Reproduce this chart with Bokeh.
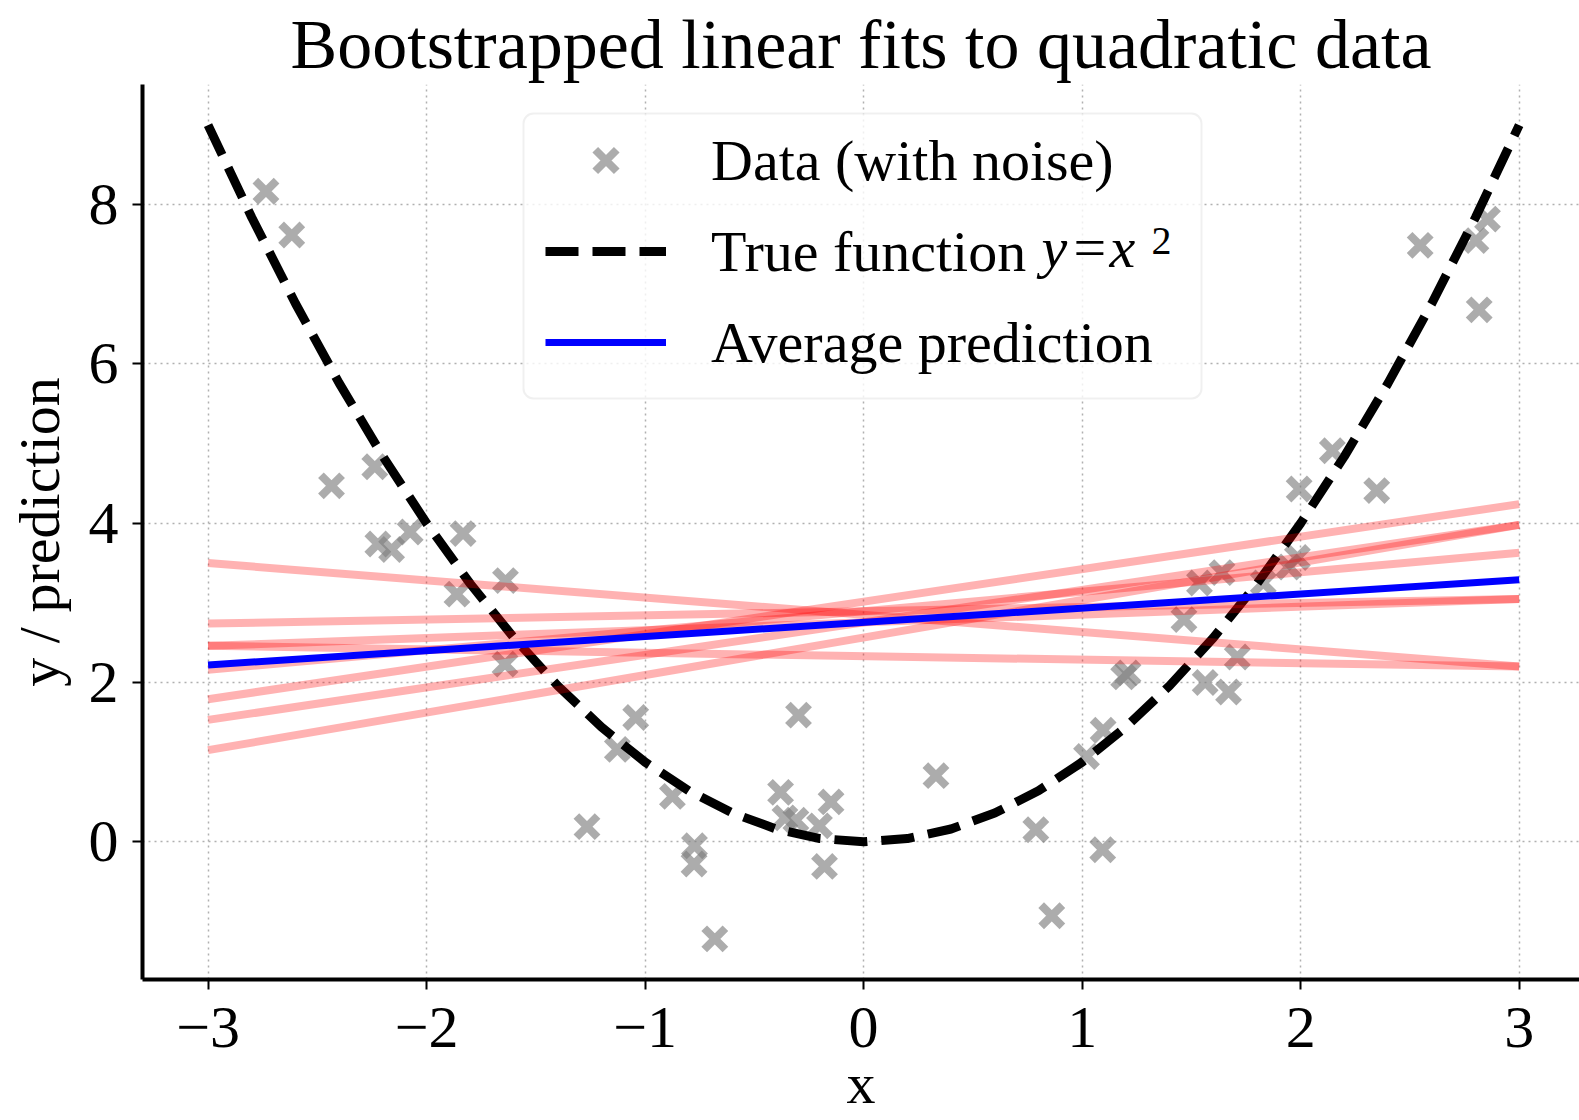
from bokeh.plotting import figure
from bokeh.models import Range1d, FixedTicker, Legend, LegendItem, Label, BoxAnnotation
from bokeh.embed import file_html
from bokeh.resources import INLINE

SERIF = "Liberation Serif"

# Noisy samples of the quadratic
data_x = [-2.735, -2.617, -2.435, -2.237, -2.223, -2.160, -2.075, -1.833, -1.861, -1.639,
          -1.641, -1.266, -1.127, -1.043, -0.875, -0.774, -0.776, -0.681, -0.380, -0.360,
          -0.310, -0.298, -0.202, -0.149, -0.179, 0.331, 0.788, 0.861, 1.020, 1.096,
          1.094, 1.190, 1.210, 1.466, 1.537, 1.563, 1.640, 1.670, 1.710, 1.829,
          1.946, 1.985, 1.993, 2.145, 2.348, 2.547, 2.802, 2.817, 2.855]
data_y = [8.17, 7.62, 4.47, 4.71, 3.74, 3.67, 3.89, 3.87, 3.11, 3.28,
          2.23, 0.19, 1.16, 1.56, 0.57, -0.05, -0.28, -1.22, 0.62, 0.30,
          0.27, 1.59, 0.20, 0.50, -0.31, 0.83, 0.15, -0.93, 1.07, 1.40,
          -0.10, 2.07, 2.12, 2.79, 3.25, 2.00, 3.38, 1.88, 2.32, 3.25,
          3.45, 3.57, 4.43, 4.91, 4.41, 7.49, 7.55, 6.68, 7.82]

# True function y = x^2 sampled on a 0.2 grid
curve_x = [-3.0, -2.8, -2.6, -2.4, -2.2, -2.0, -1.8, -1.6, -1.4, -1.2, -1.0,
           -0.8, -0.6, -0.4, -0.2, 0.0, 0.2, 0.4, 0.6, 0.8, 1.0,
           1.2, 1.4, 1.6, 1.8, 2.0, 2.2, 2.4, 2.6, 2.8, 3.0]
curve_y = [9.0, 7.84, 6.76, 5.76, 4.84, 4.0, 3.24, 2.56, 1.96, 1.44, 1.0,
           0.64, 0.36, 0.16, 0.04, 0.0, 0.04, 0.16, 0.36, 0.64, 1.0,
           1.44, 1.96, 2.56, 3.24, 4.0, 4.84, 5.76, 6.76, 7.84, 9.0]

# Bootstrapped linear fits: predictions at the two ends of the x interval
fit_x_ends = [-3.0, 3.0]
fit_y_left = [3.50, 2.46, 1.79, 2.16, 1.53, 1.15, 2.74, 2.46]
fit_y_right = [2.20, 2.20, 4.24, 3.63, 3.98, 3.98, 3.05, 3.05]

# Average prediction over the fits
avg_y_ends = [2.22, 3.29]

x_ticks = [-3, -2, -1, 0, 1, 2, 3]
y_ticks = [0, 2, 4, 6, 8]

p = figure(width=1579, height=1120, output_backend="svg", toolbar_location=None,
           x_range=Range1d(-3.3, 3.276), y_range=Range1d(-1.73, 9.51),
           min_border_left=142, min_border_right=0, min_border_top=84, min_border_bottom=141,
           title="Bootstrapped linear fits to quadratic data")
p.background_fill_color = "white"
p.border_fill_color = "white"
p.outline_line_color = None

p.title.align = "center"
p.title.text_font = SERIF
p.title.text_font_size = "70px"
p.title.text_font_style = "normal"
p.title.text_color = "black"
p.title.standoff = 4

xt = FixedTicker(ticks=x_ticks)
yt = FixedTicker(ticks=y_ticks)
p.xaxis.ticker = xt
p.yaxis.ticker = yt
p.xgrid.ticker = xt
p.ygrid.ticker = yt
p.xaxis.major_label_overrides = {t: (f"\u2212{abs(t)}" if t < 0 else str(t)) for t in x_ticks}

for ax in (p.xaxis, p.yaxis):
    ax.axis_line_width = 4
    ax.axis_line_color = "black"
    ax.major_tick_line_width = 2
    ax.major_tick_out = 10
    ax.major_tick_in = 0
    ax.minor_tick_line_color = None
    ax.major_label_text_font = SERIF
    ax.major_label_text_font_size = "60px"
    ax.major_label_text_color = "black"
    ax.axis_label_text_font = SERIF
    ax.axis_label_text_font_size = "58px"
    ax.axis_label_text_font_style = "normal"
    ax.axis_label_text_color = "black"

p.xaxis.axis_label = "x"
p.yaxis.axis_label = "y / prediction"
p.xaxis.major_label_standoff = 18
p.xaxis.axis_label_standoff = 1
p.yaxis.major_label_standoff = 14
p.yaxis.axis_label_standoff = 14

for g in (p.xgrid, p.ygrid):
    g.grid_line_color = "#b0b0b0"
    g.grid_line_width = 1.5
    g.grid_line_dash = "2 4"

scatter = p.scatter(data_x, data_y, marker="x", size=30, line_width=8,
                    line_color="gray", line_alpha=0.65)
true_line = p.line(curve_x, curve_y, line_color="black", line_width=9, line_dash="33 14")
p.multi_line([fit_x_ends for _ in fit_y_left],
             [[a, b] for a, b in zip(fit_y_left, fit_y_right)],
             line_color="red", line_alpha=0.3, line_width=8)
avg_line = p.line(fit_x_ends, avg_y_ends, line_color="blue", line_width=7)

# Pixel geometry of the plotting frame, used to place the legend frame and free text
frame_left, frame_right, frame_top, frame_bottom = 142, 1579, 84, 979


def to_data(px, py):
    xr, yr = p.x_range, p.y_range
    dx = xr.start + (px - frame_left) / (frame_right - frame_left) * (xr.end - xr.start)
    dy = yr.start + (frame_bottom - py) / (frame_bottom - frame_top) * (yr.end - yr.start)
    return dx, dy


# Legend frame: translucent white box with a rounded light-grey border
box_l, box_t = to_data(523, 113)
box_r, box_b = to_data(1201, 398)
p.add_layout(BoxAnnotation(left=box_l, right=box_r, top=box_t, bottom=box_b,
                           fill_color="white", fill_alpha=0.8,
                           line_color="#cccccc", line_width=2, border_radius=10))

legend = Legend(
    items=[LegendItem(label="Data (with noise)", renderers=[scatter]),
           LegendItem(label="True function", renderers=[true_line]),
           LegendItem(label="Average prediction", renderers=[avg_line])],
    location=(403, 599),
    label_text_font=SERIF, label_text_font_size="58px", label_text_color="black",
    glyph_width=121, glyph_height=76, label_height=76, label_width=470,
    label_standoff=45, padding=10, spacing=15,
    border_line_color=None, background_fill_alpha=0.0,
)
p.add_layout(legend)

# Math part of the second legend entry: italic y = x with a raised exponent
math_parts = [("y", 1041, 247, "italic", "58px"),
              ("=", 1073, 247, "normal", "58px"),
              ("x", 1109, 247, "italic", "58px"),
              ("2", 1151, 240, "normal", "40px")]
for txt, px, py, style, size in math_parts:
    lx, ly = to_data(px, py)
    p.add_layout(Label(x=lx, y=ly, text=txt, text_font=SERIF, text_font_style=style,
                       text_font_size=size, text_color="black",
                       text_align="left", text_baseline="middle"))

open("out.html", "w").write(file_html(p, INLINE))
